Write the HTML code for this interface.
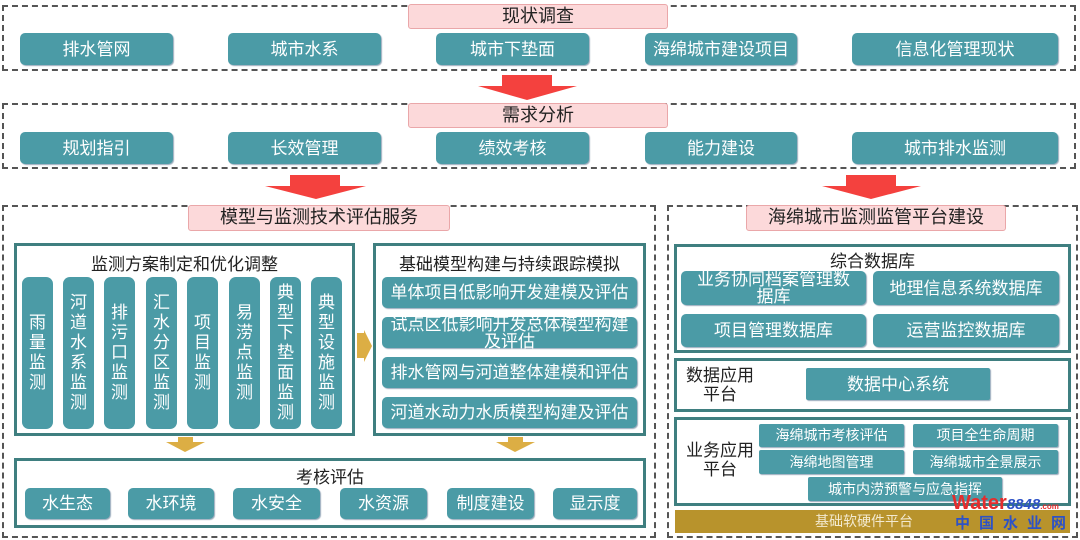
<!DOCTYPE html>
<html><head><meta charset="utf-8"><style>
*{margin:0;padding:0;box-sizing:border-box}
body{width:1080px;height:540px;background:#fff;position:relative;overflow:hidden;font-family:"Liberation Sans","Noto Sans CJK SC",sans-serif}
.a{position:absolute}
.dash{position:absolute;border:2.5px dashed #555}
.pink{position:absolute;background:#fcd9da;border:1px solid #eaa7a9;border-radius:3px;color:#222;font-size:18px;text-align:center;line-height:23px}
.b{position:absolute;background:#4b9ba6;color:#fff;border-radius:5px;font-size:17px;display:flex;align-items:center;justify-content:center;text-align:center;line-height:19px;box-shadow:1px 1px 1px #9ab}
.box{position:absolute;border:3px solid #3f7f80}
.t{position:absolute;font-size:17px;color:#222;text-align:center}
.v{position:absolute;background:#4b9ba6;color:#fff;border-radius:7px;font-size:17px;line-height:20px;display:flex;align-items:center;justify-content:center;text-align:center;top:277px;height:152px;width:31px}
</style></head><body>
<div class="dash" style="left:2px;top:5px;width:1074px;height:66px"></div>
<div class="pink" style="left:408px;top:4px;width:260px;height:25px">现状调查</div>
<div class="b" style="left:20px;top:33px;width:153px;height:32px">排水管网</div>
<div class="b" style="left:228px;top:33px;width:153px;height:32px">城市水系</div>
<div class="b" style="left:436px;top:33px;width:153px;height:32px">城市下垫面</div>
<div class="b" style="left:645px;top:33px;width:152px;height:32px">海绵城市建设项目</div>
<div class="b" style="left:852px;top:33px;width:206px;height:32px">信息化管理现状</div>
<div class="dash" style="left:2px;top:103px;width:1074px;height:66px"></div>
<div class="pink" style="left:408px;top:103px;width:260px;height:25px">需求分析</div>
<div class="b" style="left:20px;top:132px;width:153px;height:32px">规划指引</div>
<div class="b" style="left:228px;top:132px;width:153px;height:32px">长效管理</div>
<div class="b" style="left:436px;top:132px;width:153px;height:32px">绩效考核</div>
<div class="b" style="left:645px;top:132px;width:152px;height:32px">能力建设</div>
<div class="b" style="left:852px;top:132px;width:206px;height:32px">城市排水监测</div>
<svg class="a" style="left:0;top:0" width="1080" height="210">
<polygon points="502,75 552,75 552,86 577,86 527,100 478,86 502,86" fill="#f4413e"/>
<polygon points="290,175 340,175 340,186 366,186 316,199 265,186 290,186" fill="#f4413e"/>
<polygon points="846,175 896,175 896,186 921,186 871,199 822,186 846,186" fill="#f4413e"/>
</svg>
<div class="dash" style="left:2px;top:205px;width:654px;height:333px"></div>
<div class="pink" style="left:188px;top:205px;width:262px;height:26px">模型与监测技术评估服务</div>
<div class="box" style="left:14px;top:243px;width:341px;height:193px"></div>
<div class="t" style="left:14px;top:250px;width:341px">监测方案制定和优化调整</div>
<div class="v" style="left:22px">雨<br>量<br>监<br>测</div>
<div class="v" style="left:63px">河<br>道<br>水<br>系<br>监<br>测</div>
<div class="v" style="left:104px">排<br>污<br>口<br>监<br>测</div>
<div class="v" style="left:146px">汇<br>水<br>分<br>区<br>监<br>测</div>
<div class="v" style="left:187px">项<br>目<br>监<br>测</div>
<div class="v" style="left:229px">易<br>涝<br>点<br>监<br>测</div>
<div class="v" style="left:270px">典<br>型<br>下<br>垫<br>面<br>监<br>测</div>
<div class="v" style="left:311px">典<br>型<br>设<br>施<br>监<br>测</div>
<div class="box" style="left:373px;top:243px;width:273px;height:193px"></div>
<div class="t" style="left:373px;top:250px;width:273px">基础模型构建与持续跟踪模拟</div>
<div class="b" style="left:382px;top:277px;width:255px;height:31px">单体项目低影响开发建模及评估</div>
<div class="b" style="left:382px;top:317px;width:255px;height:31px;line-height:17px">试点区低影响开发总体模型构建<br>及评估</div>
<div class="b" style="left:382px;top:357px;width:255px;height:31px">排水管网与河道整体建模和评估</div>
<div class="b" style="left:382px;top:397px;width:255px;height:31px">河道水动力水质模型构建及评估</div>
<svg class="a" style="left:0;top:320px" width="660" height="140">
<polygon points="357,13 364,13 364,10 372,26 364,42 364,38 357,38" fill="#dcae44"/>
<polygon points="178,117 193,117 193,122 205,122 185,132 166,122 178,122" fill="#dcae44"/>
<polygon points="508,117 523,117 523,122 535,122 515,132 496,122 508,122" fill="#dcae44"/>
</svg>
<div class="box" style="left:14px;top:458px;width:632px;height:70px"></div>
<div class="t" style="left:14px;top:463px;width:632px">考核评估</div>
<div class="b" style="left:25px;top:488px;width:85px;height:31px">水生态</div>
<div class="b" style="left:128px;top:488px;width:86px;height:31px">水环境</div>
<div class="b" style="left:233px;top:488px;width:87px;height:31px">水安全</div>
<div class="b" style="left:340px;top:488px;width:87px;height:31px">水资源</div>
<div class="b" style="left:447px;top:488px;width:87px;height:31px">制度建设</div>
<div class="b" style="left:553px;top:488px;width:84px;height:31px">显示度</div>
<div class="dash" style="left:667px;top:205px;width:411px;height:333px"></div>
<div class="pink" style="left:746px;top:205px;width:260px;height:26px">海绵城市监测监管平台建设</div>
<div class="box" style="left:674px;top:244px;width:397px;height:109px"></div>
<div class="t" style="left:674px;top:247px;width:397px">综合数据库</div>
<div class="b" style="left:681px;top:271px;width:185px;height:34px;line-height:17px">业务协同档案管理数<br>据库</div>
<div class="b" style="left:873px;top:271px;width:186px;height:34px">地理信息系统数据库</div>
<div class="b" style="left:681px;top:314px;width:185px;height:33px">项目管理数据库</div>
<div class="b" style="left:873px;top:314px;width:186px;height:33px">运营监控数据库</div>
<div class="box" style="left:674px;top:358px;width:397px;height:54px"></div>
<div class="t" style="left:684px;top:366px;width:72px;line-height:19px">数据应用<br>平台</div>
<div class="b" style="left:806px;top:368px;width:184px;height:32px;border-radius:2px">数据中心系统</div>
<div class="box" style="left:674px;top:417px;width:397px;height:89px"></div>
<div class="t" style="left:684px;top:441px;width:72px;line-height:19px">业务应用<br>平台</div>
<div class="b" style="left:759px;top:424px;width:145px;height:23px;font-size:14px;border-radius:2px">海绵城市考核评估</div>
<div class="b" style="left:913px;top:424px;width:145px;height:23px;font-size:14px;border-radius:2px">项目全生命周期</div>
<div class="b" style="left:759px;top:450px;width:145px;height:24px;font-size:14px;border-radius:2px">海绵地图管理</div>
<div class="b" style="left:913px;top:450px;width:145px;height:24px;font-size:14px;border-radius:2px">海绵城市全景展示</div>
<div class="b" style="left:808px;top:477px;width:194px;height:24px;font-size:14px;border-radius:2px">城市内涝预警与应急指挥</div>
<div class="a" style="left:675px;top:510px;width:395px;height:23px;background:#b8932c;color:#f3ead0;font-size:14px;line-height:23px;padding-left:140px">基础软硬件平台</div>
<div class="a" style="left:952px;top:492px;font-size:20px;font-weight:bold;color:#e52d2d;white-space:nowrap;line-height:22px">Water<span style="color:#2d52c6;font-style:italic;font-size:15px">8848</span><span style="color:#e52d2d;font-size:8px">.com</span></div>
<div class="a" style="left:955px;top:514px;font-size:15px;font-weight:bold;color:#2d52c6;letter-spacing:9px;white-space:nowrap;line-height:20px">中国水业网</div>
</body></html>
